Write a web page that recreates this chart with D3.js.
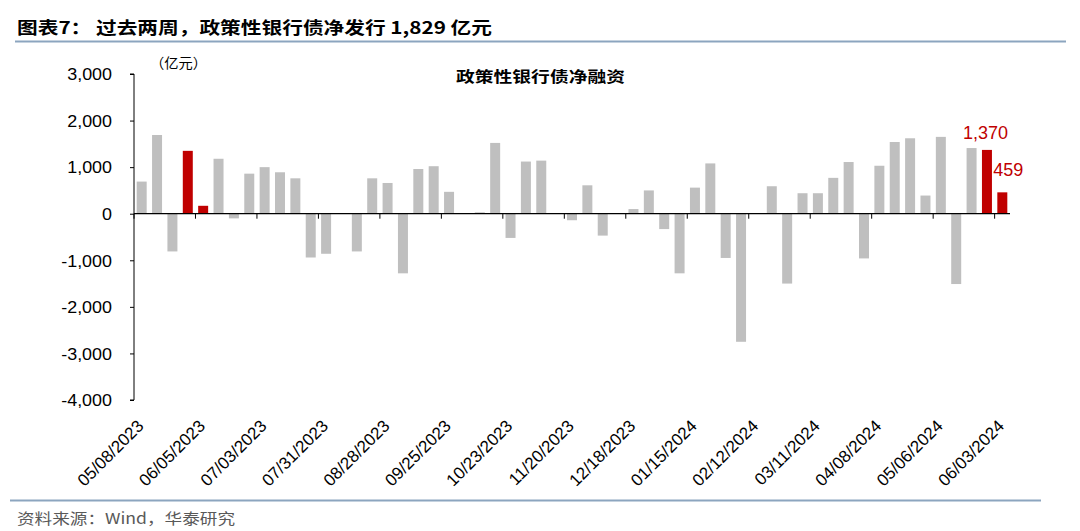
<!DOCTYPE html>
<html><head><meta charset="utf-8">
<script src="https://cdn.jsdelivr.net/npm/d3@7/dist/d3.min.js"></script>
<style>body{margin:0;background:#fff}svg{display:block}</style>
</head><body>
<svg id="c" width="1080" height="531"></svg>
<script>
const dates = ["05/08/2023","05/15/2023","05/22/2023","05/29/2023","06/05/2023","06/12/2023","06/19/2023","06/26/2023",
"07/03/2023","07/10/2023","07/17/2023","07/24/2023","07/31/2023","08/07/2023","08/14/2023","08/21/2023",
"08/28/2023","09/04/2023","09/11/2023","09/18/2023","09/25/2023","10/02/2023","10/09/2023","10/16/2023",
"10/23/2023","10/30/2023","11/06/2023","11/13/2023","11/20/2023","11/27/2023","12/04/2023","12/11/2023",
"12/18/2023","12/25/2023","01/01/2024","01/08/2024","01/15/2024","01/22/2024","01/29/2024","02/05/2024",
"02/12/2024","02/19/2024","02/26/2024","03/04/2024","03/11/2024","03/18/2024","03/25/2024","04/01/2024",
"04/08/2024","04/15/2024","04/22/2024","04/29/2024","05/06/2024","05/13/2024","05/20/2024","05/27/2024","06/03/2024"];
const netFinancing = [690,1690,-810,1350,170,1180,-100,860,1000,890,760,-940,-860,0,-810,760,
660,-1280,960,1020,470,0,30,1520,-520,1120,1140,0,-140,610,-470,0,
100,500,-330,-1280,560,1080,-950,-2750,0,590,-1500,440,440,770,1110,-960,
1030,1540,1620,390,1650,-1510,1410,1370,459];
const highlighted = ["05/29/2023","06/05/2023","05/27/2024","06/03/2024"];
const labelledDates = ["05/27/2024","06/03/2024"];
const xTickLabels = ["05/08/2023","06/05/2023","07/03/2023","07/31/2023","08/28/2023","09/25/2023","10/23/2023",
"11/20/2023","12/18/2023","01/15/2024","02/12/2024","03/11/2024","04/08/2024","05/06/2024","06/03/2024"];
const yTicks = [3000,2000,1000,0,-1000,-2000,-3000,-4000];
const titleText = "图表7： 过去两周，政策性银行债净发行 1,829 亿元";
const chartTitle = "政策性银行债净融资";
const unitText = "（亿元）";
const sourceText = "资料来源：Wind，华泰研究";

const svg = d3.select("#c");
const L = 134, R = 1010, T = 74, B = 400;
const x = d3.scaleBand().domain(dates).range([L, R]).paddingInner(0.35).paddingOuter(0.175);
const y = d3.scaleLinear().domain([-4000, 3000]).range([B, T]);
const fmt = v => d3.format(",")(v).replace("\u2212", "-");
const numFont = "'Liberation Sans', Arial, sans-serif";
const cjkFont = "'Noto Sans CJK SC', sans-serif";

// header
svg.append("text").attr("x", 17).attr("y", 34).attr("font-family", cjkFont).attr("font-weight", "bold")
  .attr("font-size", 17).attr("fill", "#000").attr("textLength", 475).attr("lengthAdjust", "spacingAndGlyphs").text(titleText);
svg.append("line").attr("x1", 15).attr("x2", 1066).attr("y1", 41.5).attr("y2", 41.5).attr("stroke", "#8CA5BF").attr("stroke-width", 2);

// bars
svg.append("g").selectAll("rect").data(dates).join("rect")
  .attr("x", d => x(d)).attr("width", x.bandwidth())
  .attr("y", (d, i) => y(Math.max(0, netFinancing[i])))
  .attr("height", (d, i) => Math.abs(y(netFinancing[i]) - y(0)))
  .attr("fill", d => highlighted.includes(d) ? "#C00000" : "#BFBFBF");

// y axis
const yAxis = svg.append("g").attr("transform", `translate(${L},0)`)
  .call(d3.axisLeft(y).tickValues(yTicks).tickSize(4).tickPadding(0).tickFormat(fmt));
yAxis.select(".domain").attr("stroke", "#000").attr("d", `M-4,${T}H0V${B}H-4`);
yAxis.selectAll(".tick line").attr("stroke", "#000");
yAxis.selectAll(".tick text").remove();
yAxis.selectAll(".tick").append("text")
  .attr("transform", "translate(-22,0) scale(1.12,1)")
  .attr("dy", "0.36em").attr("text-anchor", "end").attr("fill", "#000")
  .attr("font-family", numFont).attr("font-size", 16).text(d => fmt(d));

// x axis at zero
const step = x.step();
const tickPos = xTickLabels.map(d => x(d) - step * x.paddingInner() / 2);
svg.append("line").attr("x1", L).attr("x2", R).attr("y1", y(0)).attr("y2", y(0)).attr("stroke", "#000").attr("stroke-width", 1.2);
svg.append("g").selectAll("line").data(tickPos).join("line")
  .attr("x1", d => d).attr("x2", d => d).attr("y1", y(0)).attr("y2", y(0) + 5).attr("stroke", "#000");

// x labels
svg.append("g").selectAll("text").data(xTickLabels).join("text")
  .attr("transform", d => `translate(${x(d) + x.bandwidth() / 2 + 3},${B + 27}) rotate(-45)`)
  .attr("text-anchor", "end").attr("font-family", numFont).attr("font-size", 17).attr("fill", "#000")
  .text(d => d);

// value labels
const labelDx = {"05/27/2024": -1.5, "06/03/2024": 6};
const labelDy = {"05/27/2024": -11, "06/03/2024": -16};
svg.append("g").selectAll("text").data(labelledDates).join("text")
  .attr("x", d => x(d) + x.bandwidth() / 2 + labelDx[d])
  .attr("y", d => y(netFinancing[dates.indexOf(d)]) + labelDy[d])
  .attr("text-anchor", "middle").attr("font-family", numFont).attr("font-size", 18).attr("fill", "#C00000")
  .text(d => fmt(netFinancing[dates.indexOf(d)]));

// unit & chart title
svg.append("text").attr("x", 150).attr("y", 68).attr("font-family", cjkFont).attr("font-size", 14).attr("fill", "#000")
  .attr("textLength", 57).attr("lengthAdjust", "spacingAndGlyphs").text(unitText);
svg.append("text").attr("x", 456).attr("y", 82).attr("font-family", cjkFont).attr("font-weight", "bold").attr("font-size", 15)
  .attr("fill", "#000").attr("textLength", 169).attr("lengthAdjust", "spacingAndGlyphs").text(chartTitle);

// footer
svg.append("line").attr("x1", 10).attr("x2", 1041).attr("y1", 500.5).attr("y2", 500.5).attr("stroke", "#8CA5BF").attr("stroke-width", 2);
svg.append("text").attr("x", 17).attr("y", 524).attr("font-family", cjkFont).attr("font-size", 15).attr("fill", "#595959")
  .attr("textLength", 218).attr("lengthAdjust", "spacingAndGlyphs").text(sourceText);
</script>
</body></html>
